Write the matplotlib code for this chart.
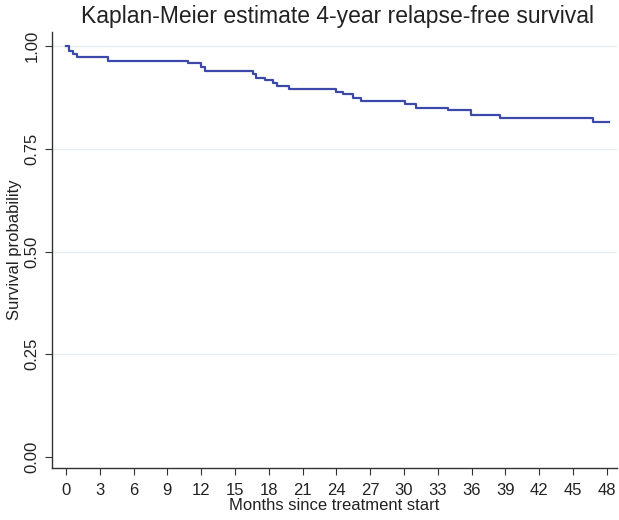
import matplotlib
matplotlib.use('Agg')
import matplotlib.pyplot as plt
import numpy as np

# Kaplan-Meier step values
months = [0, 0.3, 0.65, 1.0, 3.7, 10.8, 12.0, 12.3, 16.6, 16.85, 17.65, 18.4,
          18.7, 19.8, 24.0, 24.6, 25.5, 26.2, 30.1, 31.1, 33.9, 35.9, 38.5,
          46.8, 48.2]
survival = [1.0, 0.989, 0.982, 0.973, 0.965, 0.960, 0.950, 0.940, 0.932, 0.924,
            0.917, 0.910, 0.903, 0.897, 0.889, 0.883, 0.875, 0.866, 0.859,
            0.851, 0.844, 0.834, 0.825, 0.815, 0.815]

x_ticks = list(range(0, 49, 3))
y_ticks = [0.0, 0.25, 0.5, 0.75, 1.0]
y_labels = ['0.00', '0.25', '0.50', '0.75', '1.00']

plt.rcParams['font.family'] = ['Liberation Sans', 'DejaVu Sans']

fig = plt.figure(figsize=(6.19, 5.2), dpi=100)
ax = fig.add_axes([52 / 619, 1 - 468 / 520, (617 - 52) / 619, (468 - 32) / 520])

# Horizontal grid lines (Stata style)
for yv in y_ticks[1:]:
    ax.axhline(yv, color='#e6edf1', linewidth=1.0, zorder=0)

ax.step(months, survival, where='post', color='#3c49a8', linewidth=1.6)

ax.set_xlim(-1.24, 48.9)
ax.set_ylim(-0.027, 1.035)
ax.set_xticks(x_ticks)
ax.set_yticks(y_ticks)
ax.set_yticklabels(y_labels, rotation=90, va='center')

ax.tick_params(axis='both', direction='out', length=5, width=0.8,
               color='#333333', labelsize=12, labelcolor='#222222')
ax.tick_params(axis='x', pad=6)
ax.tick_params(axis='y', pad=4)

for side in ['top', 'right']:
    ax.spines[side].set_visible(False)
for side in ['left', 'bottom']:
    ax.spines[side].set_color('#333333')
    ax.spines[side].set_linewidth(1.0)

ax.set_xlabel('Months since treatment start', fontsize=12, color='#222222', labelpad=0)
ax.set_ylabel('Survival probability', fontsize=12, color='#222222', labelpad=2)

fig.text(0.545, 0.968, 'Kaplan-Meier estimate 4-year relapse-free survival',
         ha='center', va='center', fontsize=16.5, color='#222222')

fig.savefig('out.png', dpi=100, facecolor='white')
